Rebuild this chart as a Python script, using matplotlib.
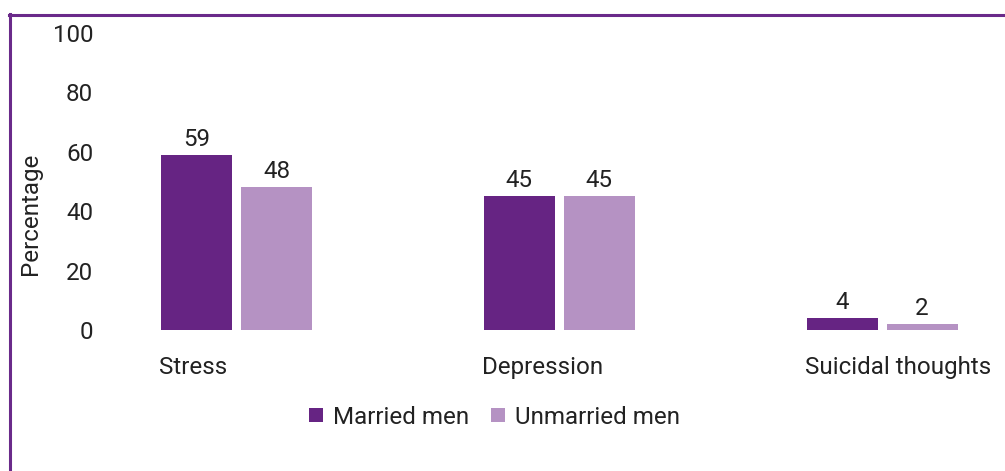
import matplotlib
matplotlib.use("Agg")
import matplotlib.pyplot as plt
from matplotlib.lines import Line2D
import numpy as np

categories = ["Stress", "Depression", "Suicidal thoughts"]
married = [59, 45, 4]
unmarried = [48, 45, 2]
series_names = ["Married men", "Unmarried men"]
yticks = [0, 20, 40, 60, 80, 100]

c_dark = "#662483"
c_light = "#b592c3"
txt = "#222222"

plt.rcParams['font.family'] = ['Roboto', 'DejaVu Sans']
FS = 17.4

W, H = 1005, 471
fig = plt.figure(figsize=(W / 100, H / 100), dpi=100)

# axes placement in pixels
gc0 = 236.5
gstep = 322.75
left_px, right_px = 100, 980
y0_px, ytop_px = 330, 33
ax = fig.add_axes([left_px / W, (H - y0_px) / H, (right_px - left_px) / W, (y0_px - ytop_px) / H])
xmin = (left_px - gc0) / gstep
xmax = (right_px - gc0) / gstep
ax.set_xlim(xmin, xmax)
ax.set_ylim(0, 100)

bw = 71 / gstep
gap = 9 / gstep
x = np.arange(len(categories))
off = bw / 2 + gap / 2
b1 = ax.bar(x - off, married, bw, color=c_dark, label=series_names[0])
b2 = ax.bar(x + off, unmarried, bw, color=c_light, label=series_names[1])
for bars in (b1, b2):
    ax.bar_label(bars, padding=3, fontsize=FS, color=txt)

for s in ax.spines.values():
    s.set_visible(False)
ax.set_yticks(yticks)
ax.set_yticklabels([str(v) for v in yticks], fontsize=FS, color=txt)
ax.tick_params(axis='y', length=0, pad=5)
ax.set_xticks(x - off - bw / 2 - 2 / gstep)
ax.set_xticklabels(categories, fontsize=FS, color=txt, ha='left')
ax.tick_params(axis='x', length=0, pad=18.5)

ax.set_ylabel("Percentage", fontsize=FS, color=txt)
ax.yaxis.set_label_coords((42 - left_px) / (right_px - left_px), (y0_px - 214) / (y0_px - ytop_px))

handles = [Line2D([], [], linestyle='none', marker='s', markersize=10.5, color=c_dark, markeredgewidth=0),
           Line2D([], [], linestyle='none', marker='s', markersize=10.5, color=c_light, markeredgewidth=0)]
leg = fig.legend(handles, series_names, loc='center', bbox_to_anchor=(494 / W, (H - 417) / H),
                 ncol=2, frameon=False, fontsize=FS, handlelength=0.6, handletextpad=0.4,
                 columnspacing=0.9, borderaxespad=0, borderpad=0)
for t in leg.get_texts():
    t.set_color(txt)

# purple frame (top and left)
fig.add_artist(Line2D([9 / W, 1], [1 - 14.5 / H, 1 - 14.5 / H], transform=fig.transFigure, color="#6a2a8a", lw=2.2))
fig.add_artist(Line2D([9.5 / W, 9.5 / W], [0, 1 - 13.5 / H], transform=fig.transFigure, color="#6a2a8a", lw=2.2))

fig.savefig("out.png", dpi=100)
